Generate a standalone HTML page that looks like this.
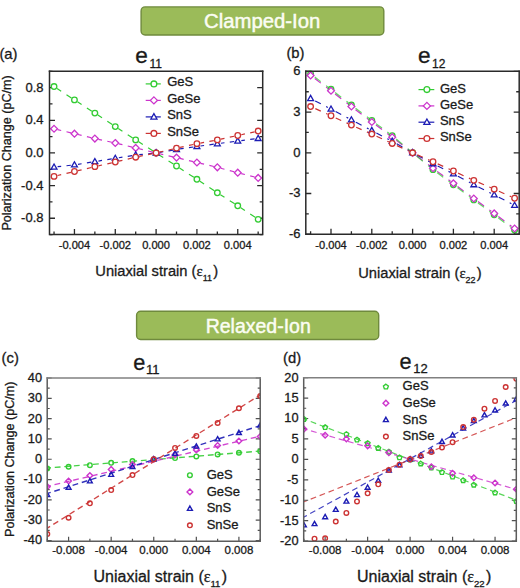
<!DOCTYPE html>
<html><head><meta charset="utf-8"><style>html,body{margin:0;padding:0;background:#fff;width:520px;height:588px;overflow:hidden}svg{display:block}</style></head><body>
<svg width="520" height="588" viewBox="0 0 520 588" font-family='"Liberation Sans", sans-serif' fill="#1a1a1a"><style>text{stroke:#1a1a1a;stroke-width:0.3px} text.w{stroke:#fbfdf3;stroke-width:0.45px}</style>
<rect width="520" height="588" fill="#fff"/>
<rect x="141.1" y="6.9" width="242.7" height="28.1" rx="4" fill="#9bbb59" stroke="#6f8a3d" stroke-width="1.4"/>
<text x="262.2" y="27.9" class="w" font-size="20" fill="#fbfdf3" text-anchor="middle" textLength="116.3" lengthAdjust="spacingAndGlyphs">Clamped-Ion</text>
<rect x="136.6" y="311.3" width="242.1" height="28.2" rx="4" fill="#9bbb59" stroke="#6f8a3d" stroke-width="1.4"/>
<text x="258.2" y="332.8" class="w" font-size="20" fill="#fbfdf3" text-anchor="middle" textLength="105.1" lengthAdjust="spacingAndGlyphs">Relaxed-Ion</text>
<clipPath id="ca"><rect x="49.5" y="71.3" width="213.2" height="163.2"/></clipPath>
<g clip-path="url(#ca)" fill="none" stroke-width="1.2" stroke-dasharray="5 3">
<path d="M57.06 88.53L61.18 91.23M66.49 94.69L71.44 97.91M77.47 101.84L81.6 104.51M86.9 107.95L91.84 111.15M97.87 115.09L102.01 117.82M107.32 121.32L112.27 124.59M118.29 128.54L122.42 131.24M127.73 134.7L132.67 137.92M138.72 141.83L142.83 144.46M148.14 147.86L153.07 151.01M159.13 154.89L163.24 157.52M168.55 160.92L173.48 164.07M179.53 167.98L183.66 170.67M188.96 174.13L193.91 177.36M199.93 181.31L204.07 184.04M209.38 187.54L214.33 190.81M220.37 194.73L224.48 197.34M229.79 200.71L234.71 203.85M240.75 207.77L244.89 210.52M250.2 214.05L255.16 217.34" stroke="#33cc33" stroke-dasharray="none" stroke-opacity="1"/>
<path d="M57.54 129.62L61.18 130.5M66.49 131.77L70.95 132.84M77.95 134.52L81.6 135.4M86.9 136.67L91.36 137.74M98.38 139.34L102.01 140.12M107.32 141.27L111.76 142.23M118.78 143.83L122.42 144.7M127.73 145.98L132.19 147.05M139.18 148.75L142.83 149.66M148.14 150.98L152.61 152.08M159.61 153.75L163.24 154.58M168.55 155.79L173 156.8M180.01 158.44L183.66 159.32M188.96 160.59L193.42 161.66M200.43 163.33L204.07 164.19M209.38 165.44L213.83 166.49M220.82 168.24L224.48 169.21M229.79 170.61L234.27 171.79M241.24 173.6L244.89 174.54M250.2 175.9L254.67 177.04" stroke="#cc33cc" stroke-dasharray="none" stroke-opacity="1"/>
<path d="M57.62 166.69L61.18 166.3M66.49 165.73L70.87 165.26M78.01 164.3L81.6 163.73M86.9 162.88L91.31 162.17M98.42 161.04L102.01 160.46M107.32 159.61L111.72 158.91M118.83 157.76L122.42 157.17M127.73 156.3L132.14 155.57M139.27 154.63L142.83 154.28M148.14 153.75L152.52 153.31M159.65 152.34L163.24 151.72M168.55 150.81L172.96 150.05M180.08 148.93L183.66 148.41M188.96 147.65L193.36 147.01M200.49 146.01L204.07 145.53M209.38 144.81L213.77 144.21M220.91 143.25L224.48 142.78M229.79 142.08L234.18 141.5M241.32 140.57L244.89 140.11M250.2 139.44L254.59 138.87" stroke="#1c1cb4" stroke-dasharray="none" stroke-opacity="1"/>
<path d="M57.54 175.54L61.18 174.67M66.49 173.4L70.95 172.32M77.96 170.66L81.6 169.8M86.9 168.55L91.36 167.49M98.37 165.87L102.01 165.04M107.32 163.83L111.77 162.81M118.78 161.19L122.42 160.33M127.73 159.07L132.18 158.02M139.21 156.46L142.83 155.71M148.14 154.61L152.58 153.68M159.6 152.12L163.24 151.26M168.55 150.01L173.01 148.96M180.03 147.37L183.66 146.59M188.96 145.44L193.41 144.48M200.46 143.06L204.07 142.38M209.38 141.38L213.8 140.55M220.85 139.13L224.48 138.34M229.79 137.2L234.23 136.24M241.27 134.72L244.89 133.93M250.2 132.79L254.64 131.83" stroke="#cc3333" stroke-dasharray="none" stroke-opacity="1"/>
</g>
<path d="M49.5 234.6h3M262.7 234.6h-3M49.5 218.27h5.5M262.7 218.27h-5.5M49.5 201.94h3M262.7 201.94h-3M49.5 185.61h5.5M262.7 185.61h-5.5M49.5 169.28h3M262.7 169.28h-3M49.5 152.95h5.5M262.7 152.95h-5.5M49.5 136.62h3M262.7 136.62h-3M49.5 120.29h5.5M262.7 120.29h-5.5M49.5 103.96h3M262.7 103.96h-3M49.5 87.63h5.5M262.7 87.63h-5.5M49.5 71.3h3M262.7 71.3h-3M54.04 234.5v-3M74.45 234.5v-5.5M94.86 234.5v-3M115.28 234.5v-5.5M135.69 234.5v-3M156.1 234.5v-5.5M176.51 234.5v-3M196.92 234.5v-5.5M217.34 234.5v-3M237.75 234.5v-5.5M258.16 234.5v-3" stroke="#2a2a2a" stroke-width="1.3" fill="none"/>
<g>
<circle cx="54.04" cy="86.57" r="2.8" fill="#fff" stroke="#33cc33" stroke-width="1.3"/>
<circle cx="74.45" cy="99.88" r="2.8" fill="#fff" stroke="#33cc33" stroke-width="1.3"/>
<circle cx="94.86" cy="113.1" r="2.8" fill="#fff" stroke="#33cc33" stroke-width="1.3"/>
<circle cx="115.28" cy="126.58" r="2.8" fill="#fff" stroke="#33cc33" stroke-width="1.3"/>
<circle cx="135.69" cy="139.89" r="2.8" fill="#fff" stroke="#33cc33" stroke-width="1.3"/>
<circle cx="156.1" cy="152.95" r="2.8" fill="#fff" stroke="#33cc33" stroke-width="1.3"/>
<circle cx="176.51" cy="166.01" r="2.8" fill="#fff" stroke="#33cc33" stroke-width="1.3"/>
<circle cx="196.92" cy="179.32" r="2.8" fill="#fff" stroke="#33cc33" stroke-width="1.3"/>
<circle cx="217.34" cy="192.8" r="2.8" fill="#fff" stroke="#33cc33" stroke-width="1.3"/>
<circle cx="237.75" cy="205.78" r="2.8" fill="#fff" stroke="#33cc33" stroke-width="1.3"/>
<circle cx="258.16" cy="219.33" r="2.8" fill="#fff" stroke="#33cc33" stroke-width="1.3"/>
<path d="M54.04 125.37L57.46 128.78L54.04 132.2L50.62 128.78Z" fill="#fff" stroke="#cc33cc" stroke-width="1.3"/>
<path d="M74.45 130.26L77.87 133.68L74.45 137.1L71.04 133.68Z" fill="#fff" stroke="#cc33cc" stroke-width="1.3"/>
<path d="M94.86 135.16L98.28 138.58L94.86 142L91.45 138.58Z" fill="#fff" stroke="#cc33cc" stroke-width="1.3"/>
<path d="M115.28 139.57L118.69 142.99L115.28 146.4L111.86 142.99Z" fill="#fff" stroke="#cc33cc" stroke-width="1.3"/>
<path d="M135.69 144.47L139.1 147.89L135.69 151.3L132.27 147.89Z" fill="#fff" stroke="#cc33cc" stroke-width="1.3"/>
<path d="M156.1 149.53L159.52 152.95L156.1 156.37L152.68 152.95Z" fill="#fff" stroke="#cc33cc" stroke-width="1.3"/>
<path d="M176.51 154.19L179.93 157.6L176.51 161.02L173.1 157.6Z" fill="#fff" stroke="#cc33cc" stroke-width="1.3"/>
<path d="M196.92 159.09L200.34 162.5L196.92 165.92L193.51 162.5Z" fill="#fff" stroke="#cc33cc" stroke-width="1.3"/>
<path d="M217.34 163.9L220.75 167.32L217.34 170.74L213.92 167.32Z" fill="#fff" stroke="#cc33cc" stroke-width="1.3"/>
<path d="M237.75 169.29L241.16 172.71L237.75 176.13L234.33 172.71Z" fill="#fff" stroke="#cc33cc" stroke-width="1.3"/>
<path d="M258.16 174.52L261.58 177.93L258.16 181.35L254.74 177.93Z" fill="#fff" stroke="#cc33cc" stroke-width="1.3"/>
<path d="M54.04 163.97L56.98 169.15L51.1 169.15Z" fill="#fff" stroke="#1c1cb4" stroke-width="1.3" stroke-linejoin="miter"/>
<path d="M74.45 161.76L77.39 166.94L71.51 166.94Z" fill="#fff" stroke="#1c1cb4" stroke-width="1.3" stroke-linejoin="miter"/>
<path d="M94.86 158.5L97.8 163.68L91.92 163.68Z" fill="#fff" stroke="#1c1cb4" stroke-width="1.3" stroke-linejoin="miter"/>
<path d="M115.28 155.23L118.22 160.41L112.34 160.41Z" fill="#fff" stroke="#1c1cb4" stroke-width="1.3" stroke-linejoin="miter"/>
<path d="M135.69 151.88L138.63 157.06L132.75 157.06Z" fill="#fff" stroke="#1c1cb4" stroke-width="1.3" stroke-linejoin="miter"/>
<path d="M156.1 149.84L159.04 155.02L153.16 155.02Z" fill="#fff" stroke="#1c1cb4" stroke-width="1.3" stroke-linejoin="miter"/>
<path d="M176.51 146.33L179.45 151.51L173.57 151.51Z" fill="#fff" stroke="#1c1cb4" stroke-width="1.3" stroke-linejoin="miter"/>
<path d="M196.92 143.39L199.86 148.57L193.98 148.57Z" fill="#fff" stroke="#1c1cb4" stroke-width="1.3" stroke-linejoin="miter"/>
<path d="M217.34 140.62L220.28 145.8L214.4 145.8Z" fill="#fff" stroke="#1c1cb4" stroke-width="1.3" stroke-linejoin="miter"/>
<path d="M237.75 137.92L240.69 143.1L234.81 143.1Z" fill="#fff" stroke="#1c1cb4" stroke-width="1.3" stroke-linejoin="miter"/>
<path d="M258.16 135.31L261.1 140.49L255.22 140.49Z" fill="#fff" stroke="#1c1cb4" stroke-width="1.3" stroke-linejoin="miter"/>
<circle cx="54.04" cy="176.38" r="2.8" fill="#fff" stroke="#cc3333" stroke-width="1.3"/>
<circle cx="74.45" cy="171.48" r="2.8" fill="#fff" stroke="#cc3333" stroke-width="1.3"/>
<circle cx="94.86" cy="166.67" r="2.8" fill="#fff" stroke="#cc3333" stroke-width="1.3"/>
<circle cx="115.28" cy="162.01" r="2.8" fill="#fff" stroke="#cc3333" stroke-width="1.3"/>
<circle cx="135.69" cy="157.2" r="2.8" fill="#fff" stroke="#cc3333" stroke-width="1.3"/>
<circle cx="156.1" cy="152.95" r="2.8" fill="#fff" stroke="#cc3333" stroke-width="1.3"/>
<circle cx="176.51" cy="148.13" r="2.8" fill="#fff" stroke="#cc3333" stroke-width="1.3"/>
<circle cx="196.92" cy="143.72" r="2.8" fill="#fff" stroke="#cc3333" stroke-width="1.3"/>
<circle cx="217.34" cy="139.89" r="2.8" fill="#fff" stroke="#cc3333" stroke-width="1.3"/>
<circle cx="237.75" cy="135.48" r="2.8" fill="#fff" stroke="#cc3333" stroke-width="1.3"/>
<circle cx="258.16" cy="131.07" r="2.8" fill="#fff" stroke="#cc3333" stroke-width="1.3"/>
</g>
<path d="M49.5 71.3V234.5H262.7V71.3" fill="none" stroke="#2a2a2a" stroke-width="1.5" stroke-linecap="square"/>
<path d="M49.5 71.3H262.7" fill="none" stroke="#2a2a2a" stroke-width="1.5" stroke-linecap="square"/>
<text x="43.5" y="91.53" font-size="13" text-anchor="end">0.8</text>
<text x="43.5" y="124.19" font-size="13" text-anchor="end">0.4</text>
<text x="43.5" y="156.85" font-size="13" text-anchor="end">0.0</text>
<text x="43.5" y="189.51" font-size="13" text-anchor="end">-0.4</text>
<text x="43.5" y="222.17" font-size="13" text-anchor="end">-0.8</text>
<text x="74.45" y="249.4" font-size="11.1" text-anchor="middle">-0.004</text>
<text x="115.28" y="249.4" font-size="11.1" text-anchor="middle">-0.002</text>
<text x="156.1" y="249.4" font-size="11.1" text-anchor="middle">0.000</text>
<text x="196.92" y="249.4" font-size="11.1" text-anchor="middle">0.002</text>
<text x="237.75" y="249.4" font-size="11.1" text-anchor="middle">0.004</text>
<line x1="145.7" y1="83.9" x2="160.8" y2="83.9" stroke="#33cc33" stroke-width="1.2"/>
<circle cx="153.9" cy="83.9" r="2.9" fill="#fff" stroke="#33cc33" stroke-width="1.3"/>
<text x="167.2" y="86.4" font-size="13">GeS</text>
<line x1="145.7" y1="100.4" x2="160.8" y2="100.4" stroke="#cc33cc" stroke-width="1.2"/>
<path d="M153.9 96.86L157.44 100.4L153.9 103.94L150.36 100.4Z" fill="#fff" stroke="#cc33cc" stroke-width="1.3"/>
<text x="167.2" y="102.9" font-size="13">GeSe</text>
<line x1="145.7" y1="116.9" x2="160.8" y2="116.9" stroke="#1c1cb4" stroke-width="1.2"/>
<path d="M153.9 113.68L156.94 119.05L150.86 119.05Z" fill="#fff" stroke="#1c1cb4" stroke-width="1.3" stroke-linejoin="miter"/>
<text x="167.2" y="119.4" font-size="13">SnS</text>
<line x1="145.7" y1="133.4" x2="160.8" y2="133.4" stroke="#cc3333" stroke-width="1.2"/>
<circle cx="153.9" cy="133.4" r="2.9" fill="#fff" stroke="#cc3333" stroke-width="1.3"/>
<text x="167.2" y="135.9" font-size="13">SnSe</text>
<clipPath id="cb"><rect x="305.8" y="71.3" width="213.40000000000003" height="162.89999999999998"/></clipPath>
<g clip-path="url(#cb)" fill="none" stroke-width="1.2" stroke-dasharray="5 3">
<path d="M314.76 78.58L320.8 83.12M326.1 87.1L328.12 88.62M335.12 93.96L341.2 98.66M346.5 102.75L348.55 104.33M355.54 109.67L361.6 114.26M366.9 118.28L368.93 119.82M375.97 125.1L382 129.6M387.3 133.55L389.31 135.04M396.33 140.35L402.4 145M407.7 149.05L409.74 150.61M416.74 155.94L422.8 160.53M428.1 164.56L430.13 166.09M437.18 171.36L443.2 175.8M448.5 179.72L450.5 181.19M457.57 186.44L463.6 190.93M468.9 194.88L470.91 196.38M478 201.6L484 205.99M489.3 209.88L491.29 211.33M498.38 216.55L504.4 220.99M509.7 224.91L511.7 226.38" stroke="#cc33cc" stroke-dasharray="none" stroke-opacity="1"/>
<path d="M314.76 77.08L320.8 81.63M326.1 85.61L328.12 87.13M335.12 92.47L341.2 97.16M346.5 101.26L348.55 102.83M355.54 108.18L361.6 112.77M366.9 116.79L368.93 118.33M375.97 123.61L382 128.1M387.3 132.05L389.31 133.55M396.19 139.04L402.4 144.25M407.7 148.7L409.84 150.49M416.61 156.11L422.8 161.21M428.1 165.59L430.22 167.34M437.18 172.72L443.2 177.16M448.5 181.07L450.5 182.55M457.57 187.8L463.6 192.29M468.9 196.24L470.91 197.74M478 202.96L484 207.35M489.3 211.23L491.29 212.69M498.37 217.92L504.4 222.41M509.7 226.37L511.71 227.86" stroke="#33cc33" stroke-dasharray="none" stroke-opacity="0.75"/>
<path d="M315.22 100.91L320.8 103.81M326.1 106.56L327.8 107.45M335.6 111.52L341.2 114.46M346.5 117.25L348.21 118.15M356 122.24L361.6 125.19M366.9 127.97L368.61 128.87M376.4 132.96L382 135.91M387.3 138.69L389.01 139.59M396.73 143.82L402.4 147.03M407.7 150.03L409.47 151.03M417.19 155.24L422.8 158.23M428.1 161.05L429.82 161.96M437.65 165.98L443.2 168.74M448.5 171.39L450.18 172.23M457.99 176.28L463.6 179.26M468.9 182.08L470.62 183M478.45 187.01L484 189.78M489.3 192.42L490.98 193.26M498.83 197.24L504.4 200.09M509.7 202.81L511.4 203.67" stroke="#1c1cb4" stroke-dasharray="none" stroke-opacity="1"/>
<path d="M315.34 108.67L320.8 111.14M326.1 113.54L327.72 114.27M335.73 117.92L341.2 120.44M346.5 122.87L348.13 123.62M356.16 127.21L361.6 129.6M366.9 131.92L368.5 132.63M376.53 136.24L382 138.76M387.3 141.19L388.93 141.93M396.93 145.61L402.4 148.12M407.7 150.55L409.33 151.3M417.36 154.89L422.8 157.28M428.1 159.61L429.7 160.31M437.74 163.9L443.2 166.37M448.5 168.77L450.12 169.5M458.13 173.15L463.6 175.67M468.9 178.1L470.53 178.85M478.57 182.41L484 184.76M489.3 187.05L490.9 187.74M498.95 191.28L504.4 193.71M509.7 196.08L511.31 196.79" stroke="#cc3333" stroke-dasharray="none" stroke-opacity="1"/>
</g>
<path d="M305.8 234.22h5.5M519.2 234.22h-5.5M305.8 213.87h3M519.2 213.87h-3M305.8 193.51h5.5M519.2 193.51h-5.5M305.8 173.16h3M519.2 173.16h-3M305.8 152.8h5.5M519.2 152.8h-5.5M305.8 132.45h3M519.2 132.45h-3M305.8 112.09h5.5M519.2 112.09h-5.5M305.8 91.74h3M519.2 91.74h-3M305.8 71.38h5.5M519.2 71.38h-5.5M310.6 234.2v-3M331 234.2v-5.5M351.4 234.2v-3M371.8 234.2v-5.5M392.2 234.2v-3M412.6 234.2v-5.5M433 234.2v-3M453.4 234.2v-5.5M473.8 234.2v-3M494.2 234.2v-5.5M514.6 234.2v-3" stroke="#2a2a2a" stroke-width="1.3" fill="none"/>
<g>
<circle cx="310.6" cy="73.96" r="2.8" fill="#fff" stroke="#33cc33" stroke-width="1.3"/>
<circle cx="331" cy="89.29" r="2.8" fill="#fff" stroke="#33cc33" stroke-width="1.3"/>
<circle cx="351.4" cy="105.03" r="2.8" fill="#fff" stroke="#33cc33" stroke-width="1.3"/>
<circle cx="371.8" cy="120.5" r="2.8" fill="#fff" stroke="#33cc33" stroke-width="1.3"/>
<circle cx="392.2" cy="135.7" r="2.8" fill="#fff" stroke="#33cc33" stroke-width="1.3"/>
<circle cx="412.6" cy="152.8" r="2.8" fill="#fff" stroke="#33cc33" stroke-width="1.3"/>
<circle cx="433" cy="169.63" r="2.8" fill="#fff" stroke="#33cc33" stroke-width="1.3"/>
<circle cx="453.4" cy="184.69" r="2.8" fill="#fff" stroke="#33cc33" stroke-width="1.3"/>
<circle cx="473.8" cy="199.89" r="2.8" fill="#fff" stroke="#33cc33" stroke-width="1.3"/>
<circle cx="494.2" cy="214.81" r="2.8" fill="#fff" stroke="#33cc33" stroke-width="1.3"/>
<circle cx="514.6" cy="230.01" r="2.8" fill="#fff" stroke="#33cc33" stroke-width="1.3"/>
<path d="M310.6 72.04L314.02 75.45L310.6 78.87L307.18 75.45Z" fill="#fff" stroke="#cc33cc" stroke-width="1.3"/>
<path d="M331 87.37L334.42 90.79L331 94.2L327.58 90.79Z" fill="#fff" stroke="#cc33cc" stroke-width="1.3"/>
<path d="M351.4 103.11L354.82 106.53L351.4 109.94L347.98 106.53Z" fill="#fff" stroke="#cc33cc" stroke-width="1.3"/>
<path d="M371.8 118.58L375.22 122L371.8 125.41L368.38 122Z" fill="#fff" stroke="#cc33cc" stroke-width="1.3"/>
<path d="M392.2 133.78L395.62 137.19L392.2 140.61L388.78 137.19Z" fill="#fff" stroke="#cc33cc" stroke-width="1.3"/>
<path d="M412.6 149.38L416.02 152.8L412.6 156.22L409.18 152.8Z" fill="#fff" stroke="#cc33cc" stroke-width="1.3"/>
<path d="M433 164.85L436.42 168.27L433 171.69L429.58 168.27Z" fill="#fff" stroke="#cc33cc" stroke-width="1.3"/>
<path d="M453.4 179.92L456.82 183.33L453.4 186.75L449.98 183.33Z" fill="#fff" stroke="#cc33cc" stroke-width="1.3"/>
<path d="M473.8 195.11L477.22 198.53L473.8 201.95L470.38 198.53Z" fill="#fff" stroke="#cc33cc" stroke-width="1.3"/>
<path d="M494.2 210.04L497.62 213.46L494.2 216.87L490.78 213.46Z" fill="#fff" stroke="#cc33cc" stroke-width="1.3"/>
<path d="M514.6 225.1L518.02 228.52L514.6 231.94L511.18 228.52Z" fill="#fff" stroke="#cc33cc" stroke-width="1.3"/>
<path d="M310.6 95.41L313.54 100.59L307.66 100.59Z" fill="#fff" stroke="#1c1cb4" stroke-width="1.3" stroke-linejoin="miter"/>
<path d="M331 106L333.94 111.18L328.06 111.18Z" fill="#fff" stroke="#1c1cb4" stroke-width="1.3" stroke-linejoin="miter"/>
<path d="M351.4 116.72L354.34 121.9L348.46 121.9Z" fill="#fff" stroke="#1c1cb4" stroke-width="1.3" stroke-linejoin="miter"/>
<path d="M371.8 127.44L374.74 132.62L368.86 132.62Z" fill="#fff" stroke="#1c1cb4" stroke-width="1.3" stroke-linejoin="miter"/>
<path d="M392.2 138.16L395.14 143.34L389.26 143.34Z" fill="#fff" stroke="#1c1cb4" stroke-width="1.3" stroke-linejoin="miter"/>
<path d="M412.6 149.69L415.54 154.87L409.66 154.87Z" fill="#fff" stroke="#1c1cb4" stroke-width="1.3" stroke-linejoin="miter"/>
<path d="M433 160.55L435.94 165.73L430.06 165.73Z" fill="#fff" stroke="#1c1cb4" stroke-width="1.3" stroke-linejoin="miter"/>
<path d="M453.4 170.73L456.34 175.91L450.46 175.91Z" fill="#fff" stroke="#1c1cb4" stroke-width="1.3" stroke-linejoin="miter"/>
<path d="M473.8 181.58L476.74 186.76L470.86 186.76Z" fill="#fff" stroke="#1c1cb4" stroke-width="1.3" stroke-linejoin="miter"/>
<path d="M494.2 191.76L497.14 196.94L491.26 196.94Z" fill="#fff" stroke="#1c1cb4" stroke-width="1.3" stroke-linejoin="miter"/>
<path d="M514.6 202.21L517.54 207.39L511.66 207.39Z" fill="#fff" stroke="#1c1cb4" stroke-width="1.3" stroke-linejoin="miter"/>
<circle cx="310.6" cy="106.53" r="2.8" fill="#fff" stroke="#cc3333" stroke-width="1.3"/>
<circle cx="331" cy="115.75" r="2.8" fill="#fff" stroke="#cc3333" stroke-width="1.3"/>
<circle cx="351.4" cy="125.12" r="2.8" fill="#fff" stroke="#cc3333" stroke-width="1.3"/>
<circle cx="371.8" cy="134.07" r="2.8" fill="#fff" stroke="#cc3333" stroke-width="1.3"/>
<circle cx="392.2" cy="143.44" r="2.8" fill="#fff" stroke="#cc3333" stroke-width="1.3"/>
<circle cx="412.6" cy="152.8" r="2.8" fill="#fff" stroke="#cc3333" stroke-width="1.3"/>
<circle cx="433" cy="161.76" r="2.8" fill="#fff" stroke="#cc3333" stroke-width="1.3"/>
<circle cx="453.4" cy="170.98" r="2.8" fill="#fff" stroke="#cc3333" stroke-width="1.3"/>
<circle cx="473.8" cy="180.35" r="2.8" fill="#fff" stroke="#cc3333" stroke-width="1.3"/>
<circle cx="494.2" cy="189.17" r="2.8" fill="#fff" stroke="#cc3333" stroke-width="1.3"/>
<circle cx="514.6" cy="198.26" r="2.8" fill="#fff" stroke="#cc3333" stroke-width="1.3"/>
</g>
<path d="M305.8 71.3V234.2H519.2V71.3" fill="none" stroke="#2a2a2a" stroke-width="1.5" stroke-linecap="square"/>
<path d="M305.8 71.3H519.2" fill="none" stroke="#2a2a2a" stroke-width="1.5" stroke-linecap="square"/>
<text x="300.6" y="75.28" font-size="13" text-anchor="end">6</text>
<text x="300.6" y="115.99" font-size="13" text-anchor="end">3</text>
<text x="300.6" y="156.7" font-size="13" text-anchor="end">0</text>
<text x="300.6" y="197.41" font-size="13" text-anchor="end">-3</text>
<text x="300.6" y="238.12" font-size="13" text-anchor="end">-6</text>
<text x="331" y="249.4" font-size="11.1" text-anchor="middle">-0.004</text>
<text x="371.8" y="249.4" font-size="11.1" text-anchor="middle">-0.002</text>
<text x="412.6" y="249.4" font-size="11.1" text-anchor="middle">0.000</text>
<text x="453.4" y="249.4" font-size="11.1" text-anchor="middle">0.002</text>
<text x="494.2" y="249.4" font-size="11.1" text-anchor="middle">0.004</text>
<line x1="418.5" y1="89.6" x2="434.3" y2="89.6" stroke="#33cc33" stroke-width="1.2"/>
<circle cx="426.9" cy="89.6" r="2.9" fill="#fff" stroke="#33cc33" stroke-width="1.3"/>
<text x="439.9" y="92.5" font-size="13">GeS</text>
<line x1="418.5" y1="105.9" x2="434.3" y2="105.9" stroke="#cc33cc" stroke-width="1.2"/>
<path d="M426.9 102.36L430.44 105.9L426.9 109.44L423.36 105.9Z" fill="#fff" stroke="#cc33cc" stroke-width="1.3"/>
<text x="439.9" y="108.8" font-size="13">GeSe</text>
<line x1="418.5" y1="122.2" x2="434.3" y2="122.2" stroke="#1c1cb4" stroke-width="1.2"/>
<path d="M426.9 118.98L429.94 124.35L423.85 124.35Z" fill="#fff" stroke="#1c1cb4" stroke-width="1.3" stroke-linejoin="miter"/>
<text x="439.9" y="125.1" font-size="13">SnS</text>
<line x1="418.5" y1="138.5" x2="434.3" y2="138.5" stroke="#cc3333" stroke-width="1.2"/>
<circle cx="426.9" cy="138.5" r="2.9" fill="#fff" stroke="#cc3333" stroke-width="1.3"/>
<text x="439.9" y="141.4" font-size="13">SnSe</text>
<clipPath id="cc"><rect x="47.2" y="377.9" width="213.0" height="163.30000000000007"/></clipPath>
<g clip-path="url(#cc)" fill="none" stroke-width="1.35" stroke-dasharray="5.8 3.8">
<line x1="45.17" y1="468.19" x2="262.33" y2="450.92" stroke="#33cc33" stroke-opacity="0.9"/>
<line x1="45.17" y1="486.87" x2="262.33" y2="435.69" stroke="#cc33cc" stroke-opacity="0.9"/>
<line x1="45.17" y1="494.18" x2="262.33" y2="424.93" stroke="#1c1cb4" stroke-opacity="0.9"/>
<line x1="45.17" y1="529.52" x2="262.33" y2="393.65" stroke="#cc3333" stroke-opacity="0.9"/>
</g>
<path d="M47.2 540.49h4.5M260.2 540.49h-4.5M47.2 530.34h2.5M260.2 530.34h-2.5M47.2 520.18h4.5M260.2 520.18h-4.5M47.2 510.02h2.5M260.2 510.02h-2.5M47.2 499.87h4.5M260.2 499.87h-4.5M47.2 489.72h2.5M260.2 489.72h-2.5M47.2 479.56h4.5M260.2 479.56h-4.5M47.2 469.4h2.5M260.2 469.4h-2.5M47.2 459.25h4.5M260.2 459.25h-4.5M47.2 449.1h2.5M260.2 449.1h-2.5M47.2 438.94h4.5M260.2 438.94h-4.5M47.2 428.78h2.5M260.2 428.78h-2.5M47.2 418.63h4.5M260.2 418.63h-4.5M47.2 408.48h2.5M260.2 408.48h-2.5M47.2 398.32h4.5M260.2 398.32h-4.5M47.2 388.16h2.5M260.2 388.16h-2.5M47.2 378.01h4.5M260.2 378.01h-4.5M47.3 541.2v-2.5M68.59 541.2v-4.5M89.88 541.2v-2.5M111.17 541.2v-4.5M132.46 541.2v-2.5M153.75 541.2v-4.5M175.04 541.2v-2.5M196.33 541.2v-4.5M217.62 541.2v-2.5M238.91 541.2v-4.5M260.2 541.2v-2.5" stroke="#505050" stroke-width="1.2" fill="none"/>
<g clip-path="url(#cc)">
<circle cx="47.3" cy="468.49" r="2.3" fill="none" stroke="#33cc33" stroke-width="1.4"/>
<circle cx="68.59" cy="466.76" r="2.3" fill="none" stroke="#33cc33" stroke-width="1.4"/>
<circle cx="89.88" cy="465.14" r="2.3" fill="none" stroke="#33cc33" stroke-width="1.4"/>
<circle cx="111.17" cy="462.8" r="2.3" fill="none" stroke="#33cc33" stroke-width="1.4"/>
<circle cx="132.46" cy="461.08" r="2.3" fill="none" stroke="#33cc33" stroke-width="1.4"/>
<circle cx="153.75" cy="459.25" r="2.3" fill="none" stroke="#33cc33" stroke-width="1.4"/>
<circle cx="175.04" cy="458.03" r="2.3" fill="none" stroke="#33cc33" stroke-width="1.4"/>
<circle cx="196.33" cy="456.41" r="2.3" fill="none" stroke="#33cc33" stroke-width="1.4"/>
<circle cx="217.62" cy="454.38" r="2.3" fill="none" stroke="#33cc33" stroke-width="1.4"/>
<circle cx="238.91" cy="452.75" r="2.3" fill="none" stroke="#33cc33" stroke-width="1.4"/>
<circle cx="260.2" cy="451.33" r="2.3" fill="none" stroke="#33cc33" stroke-width="1.4"/>
<path d="M47.3 483.86L50.11 486.67L47.3 489.47L44.49 486.67Z" fill="none" stroke="#cc33cc" stroke-width="1.4"/>
<path d="M68.59 478.18L71.4 480.98L68.59 483.79L65.78 480.98Z" fill="none" stroke="#cc33cc" stroke-width="1.4"/>
<path d="M89.88 472.69L92.69 475.5L89.88 478.3L87.07 475.5Z" fill="none" stroke="#cc33cc" stroke-width="1.4"/>
<path d="M111.17 466.6L113.98 469.4L111.17 472.21L108.36 469.4Z" fill="none" stroke="#cc33cc" stroke-width="1.4"/>
<path d="M132.46 461.72L135.27 464.53L132.46 467.34L129.65 464.53Z" fill="none" stroke="#cc33cc" stroke-width="1.4"/>
<path d="M153.75 456.44L156.56 459.25L153.75 462.06L150.94 459.25Z" fill="none" stroke="#cc33cc" stroke-width="1.4"/>
<path d="M175.04 451.98L177.85 454.78L175.04 457.59L172.23 454.78Z" fill="none" stroke="#cc33cc" stroke-width="1.4"/>
<path d="M196.33 447.1L199.14 449.91L196.33 452.71L193.52 449.91Z" fill="none" stroke="#cc33cc" stroke-width="1.4"/>
<path d="M217.62 442.63L220.43 445.44L217.62 448.25L214.81 445.44Z" fill="none" stroke="#cc33cc" stroke-width="1.4"/>
<path d="M238.91 438.17L241.72 440.97L238.91 443.78L236.1 440.97Z" fill="none" stroke="#cc33cc" stroke-width="1.4"/>
<path d="M260.2 433.7L263.01 436.5L260.2 439.31L257.39 436.5Z" fill="none" stroke="#cc33cc" stroke-width="1.4"/>
<path d="M47.3 492.24L49.71 496.49L44.88 496.49Z" fill="none" stroke="#1c1cb4" stroke-width="1.4" stroke-linejoin="miter"/>
<path d="M68.59 484.93L71.01 489.18L66.17 489.18Z" fill="none" stroke="#1c1cb4" stroke-width="1.4" stroke-linejoin="miter"/>
<path d="M89.88 478.63L92.3 482.89L87.46 482.89Z" fill="none" stroke="#1c1cb4" stroke-width="1.4" stroke-linejoin="miter"/>
<path d="M111.17 472.13L113.59 476.39L108.75 476.39Z" fill="none" stroke="#1c1cb4" stroke-width="1.4" stroke-linejoin="miter"/>
<path d="M132.46 464.21L134.88 468.47L130.05 468.47Z" fill="none" stroke="#1c1cb4" stroke-width="1.4" stroke-linejoin="miter"/>
<path d="M153.75 456.7L156.16 460.95L151.34 460.95Z" fill="none" stroke="#1c1cb4" stroke-width="1.4" stroke-linejoin="miter"/>
<path d="M175.04 451.01L177.45 455.27L172.62 455.27Z" fill="none" stroke="#1c1cb4" stroke-width="1.4" stroke-linejoin="miter"/>
<path d="M196.33 443.9L198.74 448.16L193.91 448.16Z" fill="none" stroke="#1c1cb4" stroke-width="1.4" stroke-linejoin="miter"/>
<path d="M217.62 436.59L220.03 440.85L215.21 440.85Z" fill="none" stroke="#1c1cb4" stroke-width="1.4" stroke-linejoin="miter"/>
<path d="M238.91 430.29L241.32 434.55L236.5 434.55Z" fill="none" stroke="#1c1cb4" stroke-width="1.4" stroke-linejoin="miter"/>
<path d="M260.2 422.78L262.62 427.03L257.78 427.03Z" fill="none" stroke="#1c1cb4" stroke-width="1.4" stroke-linejoin="miter"/>
<circle cx="47.3" cy="533.99" r="2.3" fill="none" stroke="#cc3333" stroke-width="1.4"/>
<circle cx="68.59" cy="517.74" r="2.3" fill="none" stroke="#cc3333" stroke-width="1.4"/>
<circle cx="89.88" cy="503.32" r="2.3" fill="none" stroke="#cc3333" stroke-width="1.4"/>
<circle cx="111.17" cy="490.12" r="2.3" fill="none" stroke="#cc3333" stroke-width="1.4"/>
<circle cx="132.46" cy="475.09" r="2.3" fill="none" stroke="#cc3333" stroke-width="1.4"/>
<circle cx="153.75" cy="459.25" r="2.3" fill="none" stroke="#cc3333" stroke-width="1.4"/>
<circle cx="175.04" cy="447.88" r="2.3" fill="none" stroke="#cc3333" stroke-width="1.4"/>
<circle cx="196.33" cy="435.89" r="2.3" fill="none" stroke="#cc3333" stroke-width="1.4"/>
<circle cx="217.62" cy="422.9" r="2.3" fill="none" stroke="#cc3333" stroke-width="1.4"/>
<circle cx="238.91" cy="408.27" r="2.3" fill="none" stroke="#cc3333" stroke-width="1.4"/>
<circle cx="260.2" cy="396.09" r="2.3" fill="none" stroke="#cc3333" stroke-width="1.4"/>
</g>
<path d="M47.2 377.9V541.2H260.2V377.9" fill="none" stroke="#5c5c5c" stroke-width="1.5" stroke-linecap="square"/>
<path d="M47.2 377.9H260.2" fill="none" stroke="#808080" stroke-width="1.5" stroke-linecap="square"/>
<text x="42" y="381.91" font-size="12.8" text-anchor="end">40</text>
<text x="42" y="402.22" font-size="12.8" text-anchor="end">30</text>
<text x="42" y="422.53" font-size="12.8" text-anchor="end">20</text>
<text x="42" y="442.84" font-size="12.8" text-anchor="end">10</text>
<text x="42" y="463.15" font-size="12.8" text-anchor="end">0</text>
<text x="42" y="483.46" font-size="12.8" text-anchor="end">-10</text>
<text x="42" y="503.77" font-size="12.8" text-anchor="end">-20</text>
<text x="42" y="524.08" font-size="12.8" text-anchor="end">-30</text>
<text x="42" y="544.39" font-size="12.8" text-anchor="end">-40</text>
<text x="68.59" y="554.4" font-size="11.5" text-anchor="middle">-0.008</text>
<text x="111.17" y="554.4" font-size="11.5" text-anchor="middle">-0.004</text>
<text x="153.75" y="554.4" font-size="11.5" text-anchor="middle">0.000</text>
<text x="196.33" y="554.4" font-size="11.5" text-anchor="middle">0.004</text>
<text x="238.91" y="554.4" font-size="11.5" text-anchor="middle">0.008</text>
<circle cx="189.9" cy="475.2" r="2.35" fill="none" stroke="#33cc33" stroke-width="1.4"/>
<text x="206.7" y="478.9" font-size="13">GeS</text>
<path d="M189.9 489.03L192.77 491.9L189.9 494.77L187.03 491.9Z" fill="none" stroke="#cc33cc" stroke-width="1.4"/>
<text x="206.7" y="495.6" font-size="13">GeSe</text>
<path d="M189.9 505.99L192.37 510.34L187.43 510.34Z" fill="none" stroke="#1c1cb4" stroke-width="1.4" stroke-linejoin="miter"/>
<text x="206.7" y="512.3" font-size="13">SnS</text>
<circle cx="189.9" cy="525.3" r="2.35" fill="none" stroke="#cc3333" stroke-width="1.4"/>
<text x="206.7" y="529" font-size="13">SnSe</text>
<clipPath id="cd"><rect x="303.7" y="377.7" width="212.59999999999997" height="163.50000000000006"/></clipPath>
<g clip-path="url(#cd)" fill="none" stroke-width="1.2" stroke-dasharray="5.8 3.8">
<line x1="301.78" y1="418.07" x2="518.42" y2="501.04" stroke="#33cc33" stroke-opacity="0.82"/>
<line x1="301.78" y1="428.29" x2="518.42" y2="490.01" stroke="#cc33cc" stroke-opacity="0.82"/>
<line x1="301.78" y1="518.21" x2="518.42" y2="399.26" stroke="#1c1cb4" stroke-opacity="0.82"/>
<line x1="301.78" y1="502.68" x2="518.42" y2="416.84" stroke="#cc3333" stroke-opacity="0.82"/>
</g>
<path d="M303.7 541.1h4.5M516.3 541.1h-4.5M303.7 530.88h2.5M516.3 530.88h-2.5M303.7 520.66h4.5M516.3 520.66h-4.5M303.7 510.44h2.5M516.3 510.44h-2.5M303.7 500.23h4.5M516.3 500.23h-4.5M303.7 490.01h2.5M516.3 490.01h-2.5M303.7 479.79h4.5M516.3 479.79h-4.5M303.7 469.57h2.5M516.3 469.57h-2.5M303.7 459.35h4.5M516.3 459.35h-4.5M303.7 449.13h2.5M516.3 449.13h-2.5M303.7 438.91h4.5M516.3 438.91h-4.5M303.7 428.69h2.5M516.3 428.69h-2.5M303.7 418.48h4.5M516.3 418.48h-4.5M303.7 408.26h2.5M516.3 408.26h-2.5M303.7 398.04h4.5M516.3 398.04h-4.5M303.7 387.82h2.5M516.3 387.82h-2.5M303.7 377.6h4.5M516.3 377.6h-4.5M303.9 541.2v-2.5M325.14 541.2v-4.5M346.38 541.2v-2.5M367.62 541.2v-4.5M388.86 541.2v-2.5M410.1 541.2v-4.5M431.34 541.2v-2.5M452.58 541.2v-4.5M473.82 541.2v-2.5M495.06 541.2v-4.5M516.3 541.2v-2.5" stroke="#505050" stroke-width="1.2" fill="none"/>
<g clip-path="url(#cd)">
<path d="M303.9 416.65L306.31 418.4L305.39 421.23L302.41 421.23L301.49 418.4Z" fill="none" stroke="#33cc33" stroke-width="1.4"/>
<path d="M325.14 424.83L327.55 426.58L326.63 429.41L323.65 429.41L322.73 426.58Z" fill="none" stroke="#33cc33" stroke-width="1.4"/>
<path d="M346.38 431.78L348.79 433.53L347.87 436.35L344.89 436.35L343.97 433.53Z" fill="none" stroke="#33cc33" stroke-width="1.4"/>
<path d="M357 437.3L359.41 439.04L358.49 441.87L355.51 441.87L354.59 439.04Z" fill="none" stroke="#33cc33" stroke-width="1.4"/>
<path d="M367.62 440.77L370.03 442.52L369.11 445.35L366.13 445.35L365.21 442.52Z" fill="none" stroke="#33cc33" stroke-width="1.4"/>
<path d="M378.24 445.68L380.65 447.42L379.73 450.25L376.75 450.25L375.83 447.42Z" fill="none" stroke="#33cc33" stroke-width="1.4"/>
<path d="M388.86 449.35L391.27 451.1L390.35 453.93L387.37 453.93L386.45 451.1Z" fill="none" stroke="#33cc33" stroke-width="1.4"/>
<path d="M399.48 455.08L401.89 456.82L400.97 459.65L397.99 459.65L397.07 456.82Z" fill="none" stroke="#33cc33" stroke-width="1.4"/>
<path d="M410.1 457.12L412.51 458.87L411.59 461.7L408.61 461.7L407.69 458.87Z" fill="none" stroke="#33cc33" stroke-width="1.4"/>
<path d="M420.72 461.21L423.13 462.96L422.21 465.78L419.23 465.78L418.31 462.96Z" fill="none" stroke="#33cc33" stroke-width="1.4"/>
<path d="M431.34 465.3L433.75 467.04L432.83 469.87L429.85 469.87L428.93 467.04Z" fill="none" stroke="#33cc33" stroke-width="1.4"/>
<path d="M441.96 469.79L444.37 471.54L443.45 474.37L440.47 474.37L439.55 471.54Z" fill="none" stroke="#33cc33" stroke-width="1.4"/>
<path d="M452.58 474.29L454.99 476.04L454.07 478.86L451.09 478.86L450.17 476.04Z" fill="none" stroke="#33cc33" stroke-width="1.4"/>
<path d="M463.2 477.97L465.61 479.71L464.69 482.54L461.71 482.54L460.79 479.71Z" fill="none" stroke="#33cc33" stroke-width="1.4"/>
<path d="M473.82 482.46L476.23 484.21L475.31 487.04L472.33 487.04L471.41 484.21Z" fill="none" stroke="#33cc33" stroke-width="1.4"/>
<path d="M495.06 490.23L497.47 491.98L496.55 494.81L493.57 494.81L492.65 491.98Z" fill="none" stroke="#33cc33" stroke-width="1.4"/>
<path d="M516.3 498.81L518.71 500.56L517.79 503.39L514.81 503.39L513.89 500.56Z" fill="none" stroke="#33cc33" stroke-width="1.4"/>
<path d="M303.9 426.3L306.71 429.1L303.9 431.91L301.09 429.1Z" fill="none" stroke="#cc33cc" stroke-width="1.4"/>
<path d="M325.14 432.43L327.95 435.23L325.14 438.04L322.33 435.23Z" fill="none" stroke="#cc33cc" stroke-width="1.4"/>
<path d="M346.38 436.11L349.19 438.91L346.38 441.72L343.57 438.91Z" fill="none" stroke="#cc33cc" stroke-width="1.4"/>
<path d="M367.62 443.06L370.43 445.86L367.62 448.67L364.81 445.86Z" fill="none" stroke="#cc33cc" stroke-width="1.4"/>
<path d="M388.86 450L391.67 452.81L388.86 455.62L386.05 452.81Z" fill="none" stroke="#cc33cc" stroke-width="1.4"/>
<path d="M410.1 456.54L412.91 459.35L410.1 462.16L407.29 459.35Z" fill="none" stroke="#cc33cc" stroke-width="1.4"/>
<path d="M431.34 463.9L434.15 466.71L431.34 469.51L428.53 466.71Z" fill="none" stroke="#cc33cc" stroke-width="1.4"/>
<path d="M452.58 470.44L455.39 473.25L452.58 476.05L449.77 473.25Z" fill="none" stroke="#cc33cc" stroke-width="1.4"/>
<path d="M473.82 474.94L476.63 477.74L473.82 480.55L471.01 477.74Z" fill="none" stroke="#cc33cc" stroke-width="1.4"/>
<path d="M495.06 480.25L497.87 483.06L495.06 485.86L492.25 483.06Z" fill="none" stroke="#cc33cc" stroke-width="1.4"/>
<path d="M516.3 486.38L519.11 489.19L516.3 491.99L513.49 489.19Z" fill="none" stroke="#cc33cc" stroke-width="1.4"/>
<path d="M303.9 522.61L306.32 526.86L301.49 526.86Z" fill="none" stroke="#1c1cb4" stroke-width="1.4" stroke-linejoin="miter"/>
<path d="M314.52 521.38L316.94 525.63L312.11 525.63Z" fill="none" stroke="#1c1cb4" stroke-width="1.4" stroke-linejoin="miter"/>
<path d="M325.14 514.43L327.56 518.69L322.72 518.69Z" fill="none" stroke="#1c1cb4" stroke-width="1.4" stroke-linejoin="miter"/>
<path d="M335.76 507.07L338.18 511.33L333.34 511.33Z" fill="none" stroke="#1c1cb4" stroke-width="1.4" stroke-linejoin="miter"/>
<path d="M346.38 498.9L348.8 503.15L343.96 503.15Z" fill="none" stroke="#1c1cb4" stroke-width="1.4" stroke-linejoin="miter"/>
<path d="M357 492.36L359.42 496.61L354.58 496.61Z" fill="none" stroke="#1c1cb4" stroke-width="1.4" stroke-linejoin="miter"/>
<path d="M367.62 485L370.04 489.26L365.2 489.26Z" fill="none" stroke="#1c1cb4" stroke-width="1.4" stroke-linejoin="miter"/>
<path d="M378.24 478.05L380.66 482.31L375.82 482.31Z" fill="none" stroke="#1c1cb4" stroke-width="1.4" stroke-linejoin="miter"/>
<path d="M388.86 467.83L391.28 472.09L386.44 472.09Z" fill="none" stroke="#1c1cb4" stroke-width="1.4" stroke-linejoin="miter"/>
<path d="M399.48 462.52L401.9 466.77L397.06 466.77Z" fill="none" stroke="#1c1cb4" stroke-width="1.4" stroke-linejoin="miter"/>
<path d="M410.1 456.8L412.52 461.05L407.69 461.05Z" fill="none" stroke="#1c1cb4" stroke-width="1.4" stroke-linejoin="miter"/>
<path d="M420.72 453.12L423.14 457.37L418.31 457.37Z" fill="none" stroke="#1c1cb4" stroke-width="1.4" stroke-linejoin="miter"/>
<path d="M431.34 448.62L433.76 452.88L428.93 452.88Z" fill="none" stroke="#1c1cb4" stroke-width="1.4" stroke-linejoin="miter"/>
<path d="M441.96 439.22L444.38 443.48L439.55 443.48Z" fill="none" stroke="#1c1cb4" stroke-width="1.4" stroke-linejoin="miter"/>
<path d="M452.58 432.68L455 436.94L450.17 436.94Z" fill="none" stroke="#1c1cb4" stroke-width="1.4" stroke-linejoin="miter"/>
<path d="M463.2 425.73L465.62 429.99L460.79 429.99Z" fill="none" stroke="#1c1cb4" stroke-width="1.4" stroke-linejoin="miter"/>
<path d="M473.82 418.37L476.24 422.63L471.41 422.63Z" fill="none" stroke="#1c1cb4" stroke-width="1.4" stroke-linejoin="miter"/>
<path d="M484.44 412.65L486.86 416.91L482.03 416.91Z" fill="none" stroke="#1c1cb4" stroke-width="1.4" stroke-linejoin="miter"/>
<path d="M495.06 407.75L497.48 412L492.65 412Z" fill="none" stroke="#1c1cb4" stroke-width="1.4" stroke-linejoin="miter"/>
<path d="M505.68 400.8L508.1 405.05L503.26 405.05Z" fill="none" stroke="#1c1cb4" stroke-width="1.4" stroke-linejoin="miter"/>
<path d="M516.3 396.71L518.72 400.97L513.89 400.97Z" fill="none" stroke="#1c1cb4" stroke-width="1.4" stroke-linejoin="miter"/>
<circle cx="314.52" cy="538.65" r="2.3" fill="none" stroke="#cc3333" stroke-width="1.4"/>
<circle cx="325.14" cy="538.24" r="2.3" fill="none" stroke="#cc3333" stroke-width="1.4"/>
<circle cx="335.76" cy="521.48" r="2.3" fill="none" stroke="#cc3333" stroke-width="1.4"/>
<circle cx="346.38" cy="512.9" r="2.3" fill="none" stroke="#cc3333" stroke-width="1.4"/>
<circle cx="357" cy="501.45" r="2.3" fill="none" stroke="#cc3333" stroke-width="1.4"/>
<circle cx="367.62" cy="493.28" r="2.3" fill="none" stroke="#cc3333" stroke-width="1.4"/>
<circle cx="378.24" cy="484.28" r="2.3" fill="none" stroke="#cc3333" stroke-width="1.4"/>
<circle cx="388.86" cy="469.98" r="2.3" fill="none" stroke="#cc3333" stroke-width="1.4"/>
<circle cx="399.48" cy="464.66" r="2.3" fill="none" stroke="#cc3333" stroke-width="1.4"/>
<circle cx="410.1" cy="459.35" r="2.3" fill="none" stroke="#cc3333" stroke-width="1.4"/>
<circle cx="420.72" cy="456.08" r="2.3" fill="none" stroke="#cc3333" stroke-width="1.4"/>
<circle cx="431.34" cy="451.99" r="2.3" fill="none" stroke="#cc3333" stroke-width="1.4"/>
<circle cx="441.96" cy="447.5" r="2.3" fill="none" stroke="#cc3333" stroke-width="1.4"/>
<circle cx="452.58" cy="442.18" r="2.3" fill="none" stroke="#cc3333" stroke-width="1.4"/>
<circle cx="463.2" cy="427.06" r="2.3" fill="none" stroke="#cc3333" stroke-width="1.4"/>
<circle cx="473.82" cy="419.7" r="2.3" fill="none" stroke="#cc3333" stroke-width="1.4"/>
<circle cx="484.44" cy="408.67" r="2.3" fill="none" stroke="#cc3333" stroke-width="1.4"/>
<circle cx="495.06" cy="400.9" r="2.3" fill="none" stroke="#cc3333" stroke-width="1.4"/>
<circle cx="505.68" cy="387" r="2.3" fill="none" stroke="#cc3333" stroke-width="1.4"/>
<circle cx="516.3" cy="378.83" r="2.3" fill="none" stroke="#cc3333" stroke-width="1.4"/>
</g>
<path d="M303.7 377.7V541.2H516.3V377.7" fill="none" stroke="#5c5c5c" stroke-width="1.5" stroke-linecap="square"/>
<path d="M303.7 377.7H516.3" fill="none" stroke="#808080" stroke-width="1.5" stroke-linecap="square"/>
<text x="298.5" y="381.5" font-size="12.8" text-anchor="end">20</text>
<text x="298.5" y="401.94" font-size="12.8" text-anchor="end">15</text>
<text x="298.5" y="422.38" font-size="12.8" text-anchor="end">10</text>
<text x="298.5" y="442.81" font-size="12.8" text-anchor="end">5</text>
<text x="298.5" y="463.25" font-size="12.8" text-anchor="end">0</text>
<text x="298.5" y="483.69" font-size="12.8" text-anchor="end">-5</text>
<text x="298.5" y="504.12" font-size="12.8" text-anchor="end">-10</text>
<text x="298.5" y="524.56" font-size="12.8" text-anchor="end">-15</text>
<text x="298.5" y="545" font-size="12.8" text-anchor="end">-20</text>
<text x="325.14" y="554.4" font-size="11.5" text-anchor="middle">-0.008</text>
<text x="367.62" y="554.4" font-size="11.5" text-anchor="middle">-0.004</text>
<text x="410.1" y="554.4" font-size="11.5" text-anchor="middle">0.000</text>
<text x="452.58" y="554.4" font-size="11.5" text-anchor="middle">0.004</text>
<text x="495.06" y="554.4" font-size="11.5" text-anchor="middle">0.008</text>
<path d="M385.9 384.22L388.36 386L387.42 388.89L384.38 388.89L383.44 386Z" fill="none" stroke="#33cc33" stroke-width="1.4"/>
<text x="402.6" y="390.2" font-size="13">GeS</text>
<path d="M385.9 400.33L388.77 403.2L385.9 406.07L383.03 403.2Z" fill="none" stroke="#cc33cc" stroke-width="1.4"/>
<text x="402.6" y="406.9" font-size="13">GeSe</text>
<path d="M385.9 417.29L388.37 421.64L383.43 421.64Z" fill="none" stroke="#1c1cb4" stroke-width="1.4" stroke-linejoin="miter"/>
<text x="402.6" y="423.6" font-size="13">SnS</text>
<circle cx="385.9" cy="436.6" r="2.35" fill="none" stroke="#cc3333" stroke-width="1.4"/>
<text x="402.6" y="440.3" font-size="13">SnSe</text>
<text x="-0.6" y="59" font-size="14.8">(a)</text>
<text x="286.4" y="58.1" font-size="14.8">(b)</text>
<text x="1.6" y="363.4" font-size="14.8">(c)</text>
<text x="283.1" y="363" font-size="14.8">(d)</text>
<text x="135.3" y="63.4" font-size="22.6">e<tspan font-size="12" dx="1.6" dy="4.9">11</tspan></text>
<text x="417.9" y="63.1" font-size="22.6">e<tspan font-size="12" dx="1.6" dy="4.7">12</tspan></text>
<text x="133.2" y="369.6" font-size="21.7">e<tspan font-size="13" dx="0.8" dy="4.7">11</tspan></text>
<text x="399.6" y="368.6" font-size="21.7">e<tspan font-size="13" dx="1.6" dy="4.2">12</tspan></text>
<text x="95.3" y="276.3" font-size="14.7">Uniaxial strain (<tspan font-family="Liberation Serif" font-style="normal">&#949;</tspan><tspan font-size="9" dy="4.9">11</tspan><tspan dx="1.2" dy="-4.9">)</tspan></text>
<text x="358.2" y="277.8" font-size="14.7">Uniaxial strain (<tspan font-family="Liberation Serif" font-style="normal">&#949;</tspan><tspan font-size="9" dy="4.9">22</tspan><tspan dx="1.2" dy="-4.9">)</tspan></text>
<text x="93.5" y="582" font-size="16">Uniaxial strain (<tspan font-family="Liberation Serif" font-style="normal">&#949;</tspan><tspan font-size="9.6" dy="4.8">11</tspan><tspan dx="1.4" dy="-4.8">)</tspan></text>
<text x="357" y="581.9" font-size="16">Uniaxial strain (<tspan font-family="Liberation Serif" font-style="normal">&#949;</tspan><tspan font-size="9.6" dy="4.8">22</tspan><tspan dx="1.4" dy="-4.8">)</tspan></text>
<text transform="translate(11,152.9) rotate(-90)" font-size="12.6" text-anchor="middle">Polarization Change (pC/m)</text>
<text transform="translate(14.4,459.2) rotate(-90)" font-size="12.6" text-anchor="middle">Polarization Change (pC/m)</text>
</svg>
</body></html>
